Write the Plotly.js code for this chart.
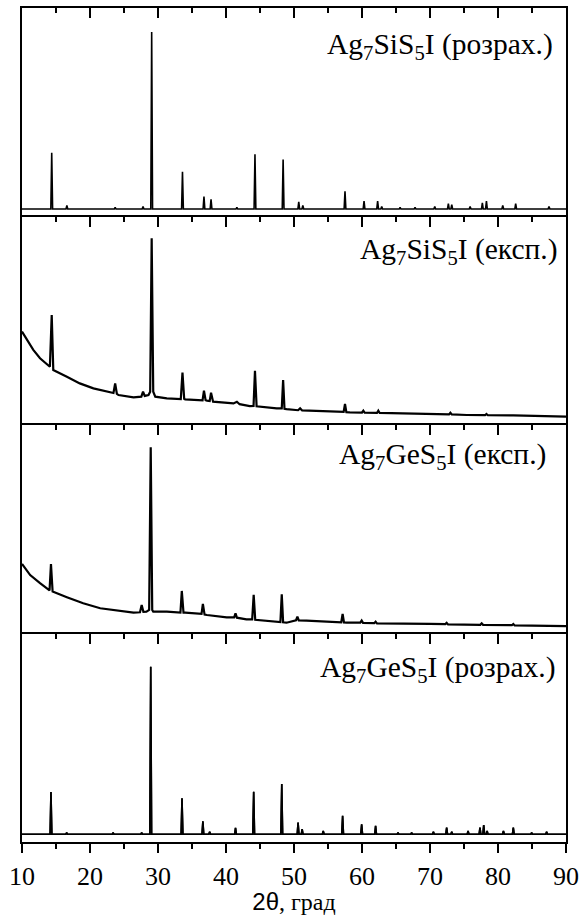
<!DOCTYPE html>
<html>
<head>
<meta charset="utf-8">
<script src="https://cdn.plot.ly/plotly-3.0.1.min.js"></script>
<style>html,body{margin:0;padding:0;background:#fff;}#chart{width:582px;height:915px;}</style>
</head>
<body>
<div id="chart"></div>
<script>
// ---- data ----
// Panel 1: Ag7SiS5I calculated — peak positions (2θ) and relative intensities
const siCalcPos = [14.37, 16.6, 23.7, 27.8, 29.07, 33.6, 36.76, 37.8, 41.6, 44.26, 48.4, 50.7, 51.3, 57.5, 60.3, 62.3, 62.9, 65.6, 67.8, 70.7, 72.7, 73.2, 75.9, 77.7, 78.3, 80.7, 82.6, 87.5];
const siCalcInt = [31.8, 2, 1, 1.5, 100, 21, 7, 5.5, 1, 31, 28, 4, 2, 10, 4.5, 4.5, 1.5, 1, 1, 1.5, 3, 2.5, 1.5, 3.5, 4.5, 2, 3, 1.5];

// Panel 2: Ag7SiS5I experimental
const siExpX = [10, 10.7, 11.66, 12.65, 13.6, 14.1, 14.37, 14.6, 16.6, 18.5,
  20.5, 22.4, 23.45, 23.7, 23.95, 24.2, 26.4, 27.55, 27.8, 28.05,
  28.6, 28.85, 29.07, 29.3, 29.6, 31.3, 33.35, 33.6, 33.85, 34.0,
  36.2, 36.55, 36.76, 37.0, 37.2, 37.6, 37.8, 38.0, 38.1, 41.1,
  41.6, 42.0, 43.5, 44.05, 44.26, 44.5, 45.0, 47.45, 48.2, 48.4,
  48.6, 48.9, 50.6, 50.9, 51.2, 55.3, 57.3, 57.5, 57.7, 58.2,
  60.0, 60.2, 60.4, 62.2, 62.4, 62.6, 65.1, 70.0, 72.8, 73.0,
  73.2, 75.4, 78.1, 78.3, 78.5, 82.25, 87.15, 90];
const siExpY = [44.9, 40.9, 36.1, 32.1, 29.3, 28.0, 52.9, 26.4, 23.2, 20.0,
  17.6, 16.0, 15.4, 20.0, 15.0, 14.4, 13.3, 13.6, 16.0, 14.0,
  14.4, 16.0, 89.8, 16.0, 13.6, 12.8, 12.5, 25.2, 12.6, 12.3,
  11.7, 11.8, 16.5, 11.9, 11.7, 11.5, 15.5, 11.3, 11.2, 10.4,
  11.2, 10.0, 9.1, 9.2, 26.1, 9.0, 8.8, 8.0, 8.0, 21.6,
  7.8, 7.6, 7.1, 8.0, 7.0, 6.4, 6.3, 10.1, 6.2, 6.1,
  6.0, 6.9, 5.9, 5.8, 6.9, 5.8, 5.6, 5.3, 5.1, 5.9,
  5.1, 4.8, 4.7, 5.3, 4.7, 4.6, 4.3, 4.0];

// Panel 3: Ag7GeS5I experimental
const geExpX = [10, 11.2, 12.65, 13.87, 14.05, 14.26, 14.5, 16.6, 19.0, 21.5,
  23.7, 26.4, 27.35, 27.6, 27.85, 28.3, 28.7, 28.93, 29.15, 29.3,
  31.3, 33.0, 33.3, 33.5, 33.75, 34.0, 36.2, 36.4, 36.6, 36.85,
  37.2, 40.1, 41.2, 41.4, 41.6, 43.0, 43.85, 44.07, 44.3, 44.75,
  47.45, 48.0, 48.2, 48.4, 48.9, 50.3, 50.5, 50.7, 51.85, 55.3,
  56.95, 57.15, 57.35, 57.75, 59.75, 59.95, 60.15, 61.8, 62.0, 62.2,
  65.1, 70.0, 72.25, 72.45, 72.65, 77.4, 77.6, 77.8, 82.05, 82.25,
  82.45, 87.15, 90];
const geExpY = [33.5, 28.2, 24.3, 21.1, 20.9, 33.5, 20.3, 17.6, 14.7, 12.3,
  11.2, 10.2, 10.4, 13.9, 10.6, 10.7, 11.5, 89.3, 11.5, 10.7,
  10.7, 10.2, 10.2, 20.6, 10.2, 10.2, 9.6, 9.6, 14.4, 9.3,
  9.1, 8.0, 8.0, 9.9, 7.8, 7.0, 7.0, 18.7, 6.8, 6.7,
  5.9, 5.7, 19.0, 5.6, 5.4, 6.6, 8.3, 6.5, 6.4, 5.9,
  5.6, 9.6, 5.5, 5.4, 5.4, 6.4, 5.3, 5.2, 5.9, 5.1,
  5.1, 4.8, 4.7, 5.3, 4.6, 4.4, 5.1, 4.4, 4.2, 4.8,
  4.1, 3.8, 3.8];

// Panel 4: Ag7GeS5I calculated
const geCalcPos = [14.26, 16.57, 23.4, 27.6, 28.93, 33.53, 36.6, 37.6, 41.4, 44.07, 48.2, 50.6, 51.2, 54.3, 57.15, 59.95, 62.0, 65.3, 67.3, 70.5, 72.45, 73.2, 75.6, 77.35, 77.9, 78.4, 80.8, 82.25, 84.95, 87.15];
const geCalcInt = [25.2, 1, 1, 1, 100, 21.5, 7.8, 1.5, 3.8, 25.4, 30, 7, 3, 2, 11, 6, 5, 1, 1, 1.5, 4, 1.5, 2, 4, 5.5, 2, 2, 4, 1, 1.5];

const labels = [
  'Ag<sub>7</sub>SiS<sub>5</sub>I (розрах.)',
  'Ag<sub>7</sub>SiS<sub>5</sub>I (експ.)',
  'Ag<sub>7</sub>GeS<sub>5</sub>I (експ.)',
  'Ag<sub>7</sub>GeS<sub>5</sub>I (розрах.)'
];
const tickVals = [10, 20, 30, 40, 50, 60, 70, 80, 90];
const minorVals = [15, 25, 35, 45, 55, 65, 75, 85];
const xTitle = '<span style="font-family:\'Liberation Sans\'">2θ</span>, град';

// ---- build stick-profile line for calculated patterns ----
function stickLine(pos, inten) {
  const hw = 0.13;
  const x = [10], y = [0];
  for (let i = 0; i < pos.length; i++) {
    x.push(pos[i] - hw, pos[i], pos[i] + hw);
    y.push(0, inten[i], 0);
  }
  x.push(90); y.push(0);
  return {x, y};
}
const s1 = stickLine(siCalcPos, siCalcInt);
const s4 = stickLine(geCalcPos, geCalcInt);

const lineCalc = {color: '#000', width: 1.6};
const lineExp = {color: '#000', width: 2.2};

const data = [
  {x: s1.x, y: s1.y, xaxis: 'x', yaxis: 'y', mode: 'lines', line: lineCalc, hoverinfo: 'skip'},
  {x: siExpX, y: siExpY, xaxis: 'x2', yaxis: 'y2', mode: 'lines', line: lineExp, hoverinfo: 'skip'},
  {x: geExpX, y: geExpY, xaxis: 'x3', yaxis: 'y3', mode: 'lines', line: lineExp, hoverinfo: 'skip'},
  {x: s4.x, y: s4.y, xaxis: 'x4', yaxis: 'y4', mode: 'lines', line: lineCalc, hoverinfo: 'skip'},
  {x: s4.x, y: s4.y, xaxis: 'x5', yaxis: 'y4', mode: 'lines', line: lineCalc, hoverinfo: 'skip'}
];

const serif = '"Liberation Serif", "Times New Roman", serif';
function topX(anchor) {
  return {
    anchor: anchor, side: 'top', range: [10, 90], showgrid: false, zeroline: false,
    showline: true, mirror: false, linecolor: '#000', linewidth: 1.8,
    ticks: 'inside', ticklen: 10, tickwidth: 1.6, tickcolor: '#000',
    tickmode: 'array', tickvals: tickVals, showticklabels: false,
    minor: {tickmode: 'array', tickvals: minorVals, ticks: 'inside', ticklen: 5, tickwidth: 1.6, tickcolor: '#000', showgrid: false}
  };
}
function yAx(domain, range) {
  return {domain: domain, range: range, showgrid: false, zeroline: false, showline: true, mirror: true,
    linecolor: '#000', linewidth: 1.8, ticks: '', showticklabels: false};
}

const annFont = {family: serif, size: 29.5, color: '#000'};
const layout = {
  width: 582, height: 915,
  margin: {l: 22, r: 16, t: 8, b: 73},
  paper_bgcolor: '#fff', plot_bgcolor: '#fff',
  showlegend: false,
  font: {family: serif, color: '#000', size: 26},
  xaxis: topX('y'),
  xaxis2: topX('y2'),
  xaxis3: topX('y3'),
  xaxis4: topX('y4'),
  xaxis5: {
    anchor: 'y4', overlaying: 'x4', side: 'bottom', range: [10, 90], showgrid: false, zeroline: false,
    showline: true, mirror: false, linecolor: '#000', linewidth: 1.8,
    ticks: 'outside', ticklen: 9, tickwidth: 1.6, tickcolor: '#000',
    ticklabelstandoff: 1,
    tickmode: 'array', tickvals: tickVals, ticktext: tickVals.map(String),
    tickfont: {family: serif, size: 26, color: '#000'},
    minor: {tickmode: 'array', tickvals: minorVals, ticks: 'outside', ticklen: 5, tickwidth: 1.6, tickcolor: '#000', showgrid: false},
    title: {text: xTitle, font: {family: serif, size: 24, color: '#000'}, standoff: 10}
  },
  yaxis: yAx([0.7494, 1], [-4.5, 113.6]),
  yaxis2: yAx([0.5, 0.7494], [0, 100]),
  yaxis3: yAx([0.2494, 0.5], [0, 100]),
  yaxis4: yAx([0, 0.2494], [-4.6, 119.5]),
  annotations: [
    {text: labels[0], xref: 'paper', yref: 'y domain', x: 0.979, y: 0.82, xanchor: 'right', yanchor: 'middle', showarrow: false, font: annFont},
    {text: labels[1], xref: 'paper', yref: 'y2 domain', x: 0.989, y: 0.835, xanchor: 'right', yanchor: 'middle', showarrow: false, font: annFont},
    {text: labels[2], xref: 'paper', yref: 'y3 domain', x: 0.966, y: 0.85, xanchor: 'right', yanchor: 'middle', showarrow: false, font: annFont},
    {text: labels[3], xref: 'paper', yref: 'y4 domain', x: 0.986, y: 0.83, xanchor: 'right', yanchor: 'middle', showarrow: false, font: annFont}
  ]
};

Plotly.newPlot('chart', data, layout, {staticPlot: true, displayModeBar: false});
</script>
</body>
</html>
